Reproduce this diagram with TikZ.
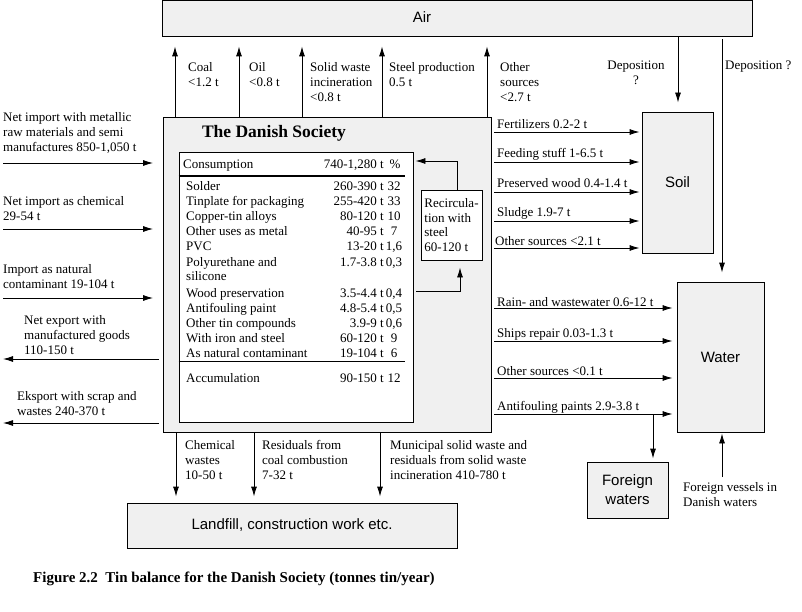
\documentclass[tikz,border=0pt]{standalone}
\usepackage{fontspec}
\setmainfont{Liberation Serif}
\newfontfamily\arialfont{Liberation Sans}
\usetikzlibrary{arrows.meta}
\definecolor{boxgray}{RGB}{240,240,240}
\tikzset{
  box/.style={draw, fill=boxgray, line width=0.9pt, inner sep=0pt},
  whitebox/.style={draw, fill=white, line width=0.9pt},
  flow/.style={line width=0.9pt, -{Latex[length=10pt,width=6pt]}},
  lbl/.style={align=left, anchor=north west, inner sep=0pt},
  one/.style={anchor=base west, inner sep=0pt},
  amt/.style={anchor=base east, inner sep=0pt},
  pct/.style={anchor=base, inner sep=0pt},
  big/.style={font=\arialfont\fontsize{15}{19}\selectfont}
}
\begin{document}
\begin{tikzpicture}[x=1pt, y=-1pt, font=\fontsize{13}{15}\selectfont]
\useasboundingbox (0,0) rectangle (802,612);
\node[box, minimum width=590pt, minimum height=36pt] (air) at (457,18) {};
\node[big] (airlbl) at (422,17) {Air};
\node[box, minimum width=327.5pt, minimum height=315pt] (soc) at (327.25,274.5) {};
\node[font=\bfseries\fontsize{17.5}{20}\selectfont] (soctitle) at (274,133) {The Danish Society};
\node[whitebox, minimum width=234pt, minimum height=270pt] (tab) at (296,287) {};
\node[whitebox, inner sep=1pt, align=left, minimum width=61pt, minimum height=70pt, font=\fontsize{13}{14.5}\selectfont] (recirc) at (451.5,225) {Recircula-\\tion with\\steel\\60-120 t};
\node[box, big, minimum width=71pt, minimum height=141pt] (soil) at (677.5,182.5) {Soil};
\node[box, big, minimum width=87pt, minimum height=150pt] (water) at (720.5,357) {Water};
\node[box, big, align=center, minimum width=81pt, minimum height=56pt] (foreign) at (627.5,490) {Foreign\\waters};
\node[box, big, minimum width=330pt, minimum height=45pt] (landfill) at (292,525.5) {Landfill, construction work etc.};

\node[one] (conslbl) at (183,169) {Consumption};
\node[amt] (consamt) at (384,169) {740-1,280 t};
\node[pct] (conspct) at (395,169) {\%};
\draw[line width=1.8pt] (tab.west |- 0,176) -- (405,176);
\node[one] (solder) at (186,191) {Solder};
\node[amt] (solderamt) at (384,191) {260-390 t};
\node[pct] (solderpct) at (394,191) {32};
\node[one] (tinplate) at (186,206) {Tinplate for packaging};
\node[amt] (tinplateamt) at (384,206) {255-420 t};
\node[pct] (tinplatepct) at (394,206) {33};
\node[one] (copper) at (186,221) {Copper-tin alloys};
\node[amt] (copperamt) at (384,221) {80-120 t};
\node[pct] (copperpct) at (394,221) {10};
\node[one] (metal) at (186,236) {Other uses as metal};
\node[amt] (metalamt) at (384,236) {40-95 t};
\node[pct] (metalpct) at (394,236) {7};
\node[one] (pvc) at (186,251) {PVC};
\node[amt] (pvcamt) at (384,251) {13-20 t};
\node[pct] (pvcpct) at (394,251) {1,6};
\node[one] (poly) at (186,266) {Polyurethane and};
\node[one] (silicone) at (186,280) {silicone};
\node[amt] (polyamt) at (384,266) {1.7-3.8 t};
\node[pct] (polypct) at (394,266) {0,3};
\node[one] (wood) at (186,297) {Wood preservation};
\node[amt] (woodamt) at (384,297) {3.5-4.4 t};
\node[pct] (woodpct) at (394,297) {0,4};
\node[one] (paint) at (186,312) {Antifouling paint};
\node[amt] (paintamt) at (384,312) {4.8-5.4 t};
\node[pct] (paintpct) at (394,312) {0,5};
\node[one] (othertin) at (186,327) {Other tin compounds};
\node[amt] (othertinamt) at (384,327) {3.9-9 t};
\node[pct] (othertinpct) at (394,327) {0,6};
\node[one] (iron) at (186,342) {With iron and steel};
\node[amt] (ironamt) at (384,342) {60-120 t};
\node[pct] (ironpct) at (394,342) {9};
\node[one] (natural) at (186,357) {As natural contaminant};
\node[amt] (naturalamt) at (384,357) {19-104 t};
\node[pct] (naturalpct) at (394,357) {6};
\draw[line width=0.9pt] (tab.west |- 0,361) -- (405,361);
\node[one] (accum) at (186,382) {Accumulation};
\node[amt] (accumamt) at (384,382) {90-150 t};
\node[pct] (accumpct) at (394,382) {12};

\draw[flow, shorten >=2pt] (recirc.north -| 457,0) |- (tab.east |- 0,161);
\draw[flow, shorten <=3pt, shorten >=7pt] (tab.east |- 0,291) -| (recirc.south -| 460,0);

\draw[flow, shorten >=10pt] (soc.north -| 175,0) -- (air.south -| 175,0);
\draw[flow, shorten >=10pt] (soc.north -| 239,0) -- (air.south -| 239,0);
\draw[flow, shorten >=10pt] (soc.north -| 302,0) -- (air.south -| 302,0);
\draw[flow, shorten >=10pt] (soc.north -| 382,0) -- (air.south -| 382,0);
\draw[flow, shorten >=10pt] (soc.north -| 487,0) -- (air.south -| 487,0);
\node[lbl] (coal) at (188,62.5) {Coal\\<1.2 t};
\node[lbl] (oil) at (249,62.5) {Oil\\<0.8 t};
\node[lbl] (incin) at (310,62.5) {Solid waste\\incineration\\<0.8 t};
\node[lbl] (steel) at (389,62.5) {Steel production\\0.5 t};
\node[lbl] (othersrc) at (500,62.5) {Other\\sources\\<2.7 t};

\draw[flow, shorten >=9pt] (air.south -| 678,0) -- (soil.north -| 678,0);
\draw[flow, shorten <=3pt, shorten >=9pt] (air.south -| 722,0) -- (water.north -| 722,0);
\node[lbl, align=center, anchor=north] (depsoil) at (636,60.5) {Deposition\\?};
\node[lbl] (depwater) at (725,60.5) {Deposition ?};

\coordinate (in1) at (3,163);
\coordinate (in2) at (3,229);
\coordinate (in3) at (3,298);
\coordinate (out1) at (3,359);
\coordinate (out2) at (3,423);
\draw[flow, shorten >=10pt] (in1) -- (in1 -| soc.west);
\draw[flow, shorten >=10pt] (in2) -- (in2 -| soc.west);
\draw[flow, shorten >=10pt] (in3) -- (in3 -| soc.west);
\draw[flow, shorten <=4pt] (out1 -| soc.west) -- (out1);
\draw[flow, shorten <=4pt] (out2 -| soc.west) -- (out2);
\node[lbl] (imp1) at (3,112.5) {Net import with metallic\\raw materials and semi\\manufactures 850-1,050 t};
\node[lbl] (imp2) at (3,196.5) {Net import as chemical\\29-54 t};
\node[lbl] (imp3) at (3,264.5) {Import as natural\\contaminant 19-104 t};
\node[lbl] (exp1) at (24,315.5) {Net export with\\manufactured goods\\110-150 t};
\node[lbl] (exp2) at (17,391.5) {Eksport with scrap and\\wastes 240-370 t};

\draw[flow, shorten <=3pt, shorten >=2pt] (soc.east |- 0,132) -- (soil.west |- 0,132);
\draw[flow, shorten <=3pt, shorten >=2pt] (soc.east |- 0,162) -- (soil.west |- 0,162);
\draw[flow, shorten <=3pt, shorten >=2pt] (soc.east |- 0,192) -- (soil.west |- 0,192);
\draw[flow, shorten <=3pt, shorten >=2pt] (soc.east |- 0,221) -- (soil.west |- 0,221);
\draw[flow, shorten <=3pt, shorten >=2pt] (soc.east |- 0,248) -- (soil.west |- 0,248);
\node[one] (fert) at (497,128.5) {Fertilizers 0.2-2 t};
\node[one] (feed) at (497,157.5) {Feeding stuff 1-6.5 t};
\node[one] (pwood) at (497,188) {Preserved wood 0.4-1.4 t};
\node[one] (sludge) at (497,217) {Sludge 1.9-7 t};
\node[one] (othersoil) at (495,245) {Other sources <2.1 t};

\draw[flow, shorten <=3pt, shorten >=4pt] (soc.east |- 0,308) -- (water.west |- 0,308);
\draw[flow, shorten <=3pt, shorten >=4pt] (soc.east |- 0,341) -- (water.west |- 0,341);
\draw[flow, shorten <=3pt, shorten >=4pt] (soc.east |- 0,378) -- (water.west |- 0,378);
\draw[flow, shorten <=3pt, shorten >=4pt] (soc.east |- 0,414) -- (water.west |- 0,414);
\node[one] (rain) at (497,306) {Rain- and wastewater 0.6-12 t};
\node[one] (ships) at (497,337) {Ships repair 0.03-1.3 t};
\node[one] (otherwater) at (497,375) {Other sources <0.1 t};
\node[one] (antifoul) at (497,410) {Antifouling paints 2.9-3.8 t};

\coordinate (split) at (653,414);
\draw[flow, shorten >=3pt] (split) -- (split |- foreign.north);
\coordinate (fv) at (722,477);
\draw[flow, shorten >=1pt] (fv) -- (fv |- water.south);
\node[lbl] (vessels) at (683,482) {Foreign vessels in\\Danish waters};

\draw[flow, shorten <=1pt, shorten >=6pt] (soc.south -| 176,0) -- (landfill.north -| 176,0);
\draw[flow, shorten <=1pt, shorten >=6pt] (soc.south -| 254,0) -- (landfill.north -| 254,0);
\draw[flow, shorten <=1pt, shorten >=6pt] (soc.south -| 380,0) -- (landfill.north -| 380,0);
\node[lbl] (chem) at (185,440.5) {Chemical\\wastes\\10-50 t};
\node[lbl] (coalres) at (262,440.5) {Residuals from\\coal combustion\\7-32 t};
\node[lbl] (municipal) at (390,440.5) {Municipal solid waste and\\residuals from solid waste\\incineration 410-780 t};

\node[font=\bfseries\fontsize{15}{18}\selectfont, anchor=base west, inner sep=0pt] (caption) at (33,582) {Figure 2.2\ \ Tin balance for the Danish Society (tonnes tin/year)};
\end{tikzpicture}
\end{document}
